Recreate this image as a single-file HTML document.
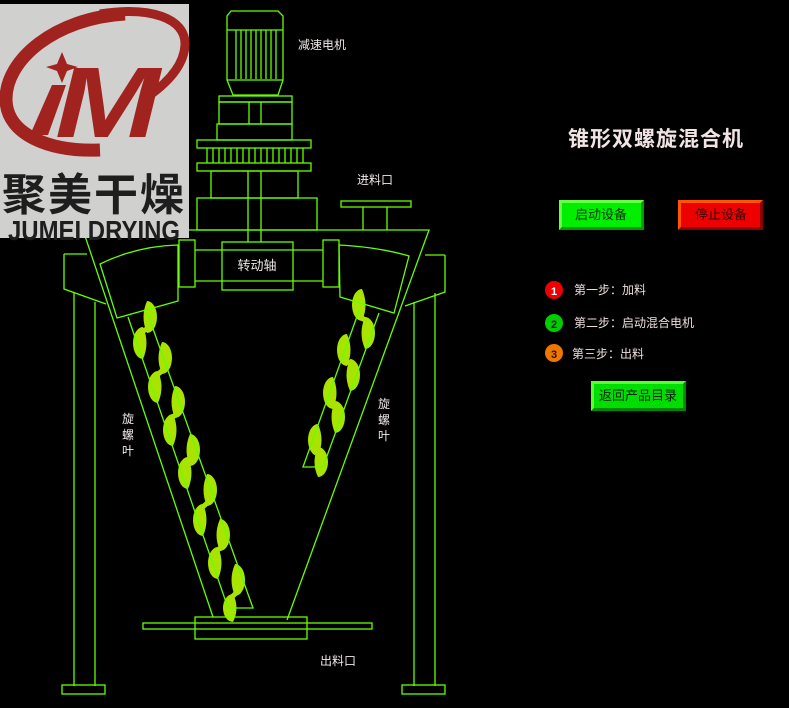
<!DOCTYPE html>
<html><head><meta charset="utf-8"><style>
html,body{margin:0;padding:0;background:#000;width:789px;height:708px;overflow:hidden}
svg{display:block}
text{font-family:"Liberation Sans","Noto Sans CJK SC",sans-serif}
</style></head><body>
<svg width="789" height="708" viewBox="0 0 789 708" xmlns="http://www.w3.org/2000/svg">
<rect width="789" height="708" fill="#000"/>
<!-- flights -->
<g fill="#a8e400">
<path d="M147,301 A10 16 0 0 1 147,333 Q140,317 147,301Z"/>
<path d="M143,327 A10 16 0 0 0 143,359 Q150,343 143,327Z"/>
<path d="M162,342 A10 16 0 0 1 162,374 Q155,358 162,342Z"/>
<path d="M158,371 A10 16 0 0 0 158,403 Q165,387 158,371Z"/>
<path d="M175,386 A10 16 0 0 1 175,418 Q168,402 175,386Z"/>
<path d="M173,414 A10 16 0 0 0 173,446 Q180,430 173,414Z"/>
<path d="M190,434 A10 16 0 0 1 190,466 Q183,450 190,434Z"/>
<path d="M188,457 A10 16 0 0 0 188,489 Q195,473 188,457Z"/>
<path d="M207,474 A10 16 0 0 1 207,506 Q200,490 207,474Z"/>
<path d="M203,504 A10 16 0 0 0 203,536 Q210,520 203,504Z"/>
<path d="M220,519 A10 16 0 0 1 220,551 Q213,535 220,519Z"/>
<path d="M218,547 A10 16 0 0 0 218,579 Q225,563 218,547Z"/>
<path d="M235,564 A10 16 0 0 1 235,596 Q228,580 235,564Z"/>
<path d="M233,594 A10 14 0 0 0 233,622 Q240,608 233,594Z"/>
<path d="M362,289 A10 16 0 0 0 362,321 Q369,305 362,289Z"/>
<path d="M365,317 A10 16 0 0 1 365,349 Q358,333 365,317Z"/>
<path d="M347,334 A10 16 0 0 0 347,366 Q354,350 347,334Z"/>
<path d="M350,359 A10 16 0 0 1 350,391 Q343,375 350,359Z"/>
<path d="M333,377 A10 16 0 0 0 333,409 Q340,393 333,377Z"/>
<path d="M335,401 A10 16 0 0 1 335,433 Q328,417 335,401Z"/>
<path d="M318,424 A10 16 0 0 0 318,456 Q325,440 318,424Z"/>
<path d="M318,447 A10 15 0 0 1 318,477 Q311,462 318,447Z"/>
</g>
<g stroke="#a8e400" stroke-width="5" stroke-linecap="round">
<path d="M153,325L137,335M168,366L152,379M181,410L167,422M196,458L182,465M213,498L197,512M226,543L212,555M241,588L227,602"/>
<path d="M356,313L371,325M341,358L356,367M327,401L341,409M312,448L324,455"/>
</g>
<g fill="none" stroke="#66ff00" stroke-width="1.3">
<path d="M231,11 H278 L283,16 V80 L278,95 H233 L227,80 V16 Z"/>
<line x1="227" y1="30" x2="283" y2="30"/>
<path d="M236,30V79M241,30V79M246,30V79M251,30V79M256,30V79M261,30V79M266,30V79M271,30V79M276,30V79"/>
<line x1="227" y1="80" x2="283" y2="80"/>
<rect x="219" y="96" width="73" height="6"/>
<rect x="219" y="102" width="73" height="22"/>
<path d="M249,102V124M261,102V124"/>
<rect x="217" y="124" width="75" height="16"/>
<rect x="197" y="140" width="114" height="8"/>
<path d="M207,148V163M213,148V163M219,148V163M225,148V163M231,148V163M237,148V163M243,148V163M249,148V163M255,148V163M261,148V163M267,148V163M273,148V163M279,148V163M285,148V163M291,148V163M297,148V163M303,148V163"/>
<rect x="197" y="163" width="114" height="8"/>
<rect x="211" y="171" width="87" height="27"/>
<rect x="197" y="198" width="120" height="32"/>
<path d="M248,171V242M261,171V242"/>
<rect x="341" y="201" width="70" height="6"/>
<path d="M363,207V230M387,207V230"/>
<path d="M83,230 H429 L287,620 M83,230 L213,617"/>
<path d="M195,250H323M195,281H323"/>
<rect x="222" y="242" width="71" height="48"/>
<rect x="179" y="240" width="16" height="47"/>
<rect x="323" y="240" width="16" height="47"/>
<path d="M100,264 Q137,246 178,245 V301 L117,318 Z"/>
<path d="M339,245 Q378,247 409,256 L394,313 L340,297 Z"/>
<path d="M64,254 H87 M64,254 V289 L106,304"/>
<path d="M445,255 H425 M445,255 V292 L405,306"/>
<path d="M74,293 V686 M95,302 V686"/>
<path d="M414,302 V686 M435,293 V686"/>
<rect x="62" y="685" width="43" height="9"/>
<rect x="402" y="685" width="43" height="9"/>
<path d="M128,317 L228,608 H253 L147,312"/>
<path d="M360,308 L303,467 H323 L379,313"/>
<rect x="143" y="623" width="229" height="6"/>
<rect x="195" y="617" width="112" height="22"/>
</g>
<!-- logo -->
<rect x="0" y="4" width="189" height="234" fill="#d0d0cf"/>
<g fill="none" stroke="#a0231f">
<path d="M125,14 C55,18 5,60 6,100 C7,135 50,152 100,150" stroke-width="13"/>
<path d="M100,14 C150,6 186,18 185,45 C184,65 168,82 150,95" stroke-width="9"/>
</g>
<path d="M62,52 L67,64 L78,67 L67,71 L62,83 L57,71 L46,67 L57,64Z" fill="#a0231f"/>
<path d="M30,135 L52,85 L66,85 L48,135Z" fill="#a0231f"/>
<text x="55" y="137" font-size="100" font-weight="bold" font-style="italic" fill="#a0231f" font-family="Liberation Serif,serif" textLength="105" lengthAdjust="spacingAndGlyphs">M</text>
<text x="94" y="210" font-size="44" font-weight="bold" fill="#1e1e1e" text-anchor="middle" font-family="Liberation Sans,Noto Sans CJK SC,sans-serif" letter-spacing="2">聚美干燥</text>
<text x="8" y="240" font-size="28" font-weight="bold" fill="#1e1e1e" textLength="172" lengthAdjust="spacingAndGlyphs">JUMEI DRYING</text>
<g fill="#f0e8e8" font-size="12">
<text x="298" y="49">减速电机</text>
<text x="357" y="184">进料口</text>
<text x="257" y="270" text-anchor="middle" font-size="13">转动轴</text>
<text x="122" y="423">旋</text><text x="122" y="439">螺</text><text x="122" y="455">叶</text>
<text x="378" y="408">旋</text><text x="378" y="424">螺</text><text x="378" y="440">叶</text>
<text x="320" y="665">出料口</text>
</g>
<text x="656" y="146" font-size="21" font-weight="bold" fill="#f2e4e4" text-anchor="middle" letter-spacing="1">锥形双螺旋混合机</text>
<g>
<rect x="559" y="200" width="85" height="30" fill="#00ee00"/>
<path d="M559,200H644L641,203H562V227L559,230Z" fill="#66ff44"/>
<path d="M644,200V230H559L562,227H641V203Z" fill="#009900"/>
<text x="601" y="219" font-size="13" fill="#003300" text-anchor="middle">启动设备</text>
<rect x="678" y="200" width="85" height="30" fill="#ee0000"/>
<path d="M678,200H763L760,203H681V227L678,230Z" fill="#ff5500"/>
<path d="M763,200V230H678L681,227H760V203Z" fill="#880000"/>
<text x="721" y="219" font-size="13" fill="#330000" text-anchor="middle">停止设备</text>
<rect x="591" y="381" width="95" height="30" fill="#00dd00"/>
<path d="M591,381H686L683,384H594V408L591,411Z" fill="#55ff33"/>
<path d="M686,381V411H591L594,408H683V384Z" fill="#008800"/>
<text x="638" y="400" font-size="13" fill="#002200" text-anchor="middle">返回产品目录</text>
</g>
<circle cx="554" cy="290" r="9" fill="#ee0000"/><text x="554" y="295" font-size="11" font-weight="bold" fill="#fff" text-anchor="middle">1</text>
<circle cx="554" cy="323" r="9" fill="#00cc00"/><text x="554" y="328" font-size="11" font-weight="bold" fill="#002200" text-anchor="middle">2</text>
<circle cx="554" cy="353" r="9" fill="#ee7700"/><text x="554" y="358" font-size="11" font-weight="bold" fill="#331100" text-anchor="middle">3</text>
<g fill="#eedddd" font-size="12">
<text x="574" y="294">第一步：加料</text>
<text x="574" y="327">第二步：启动混合电机</text>
<text x="572" y="358">第三步：出料</text>
</g>
</svg>
</body></html>
